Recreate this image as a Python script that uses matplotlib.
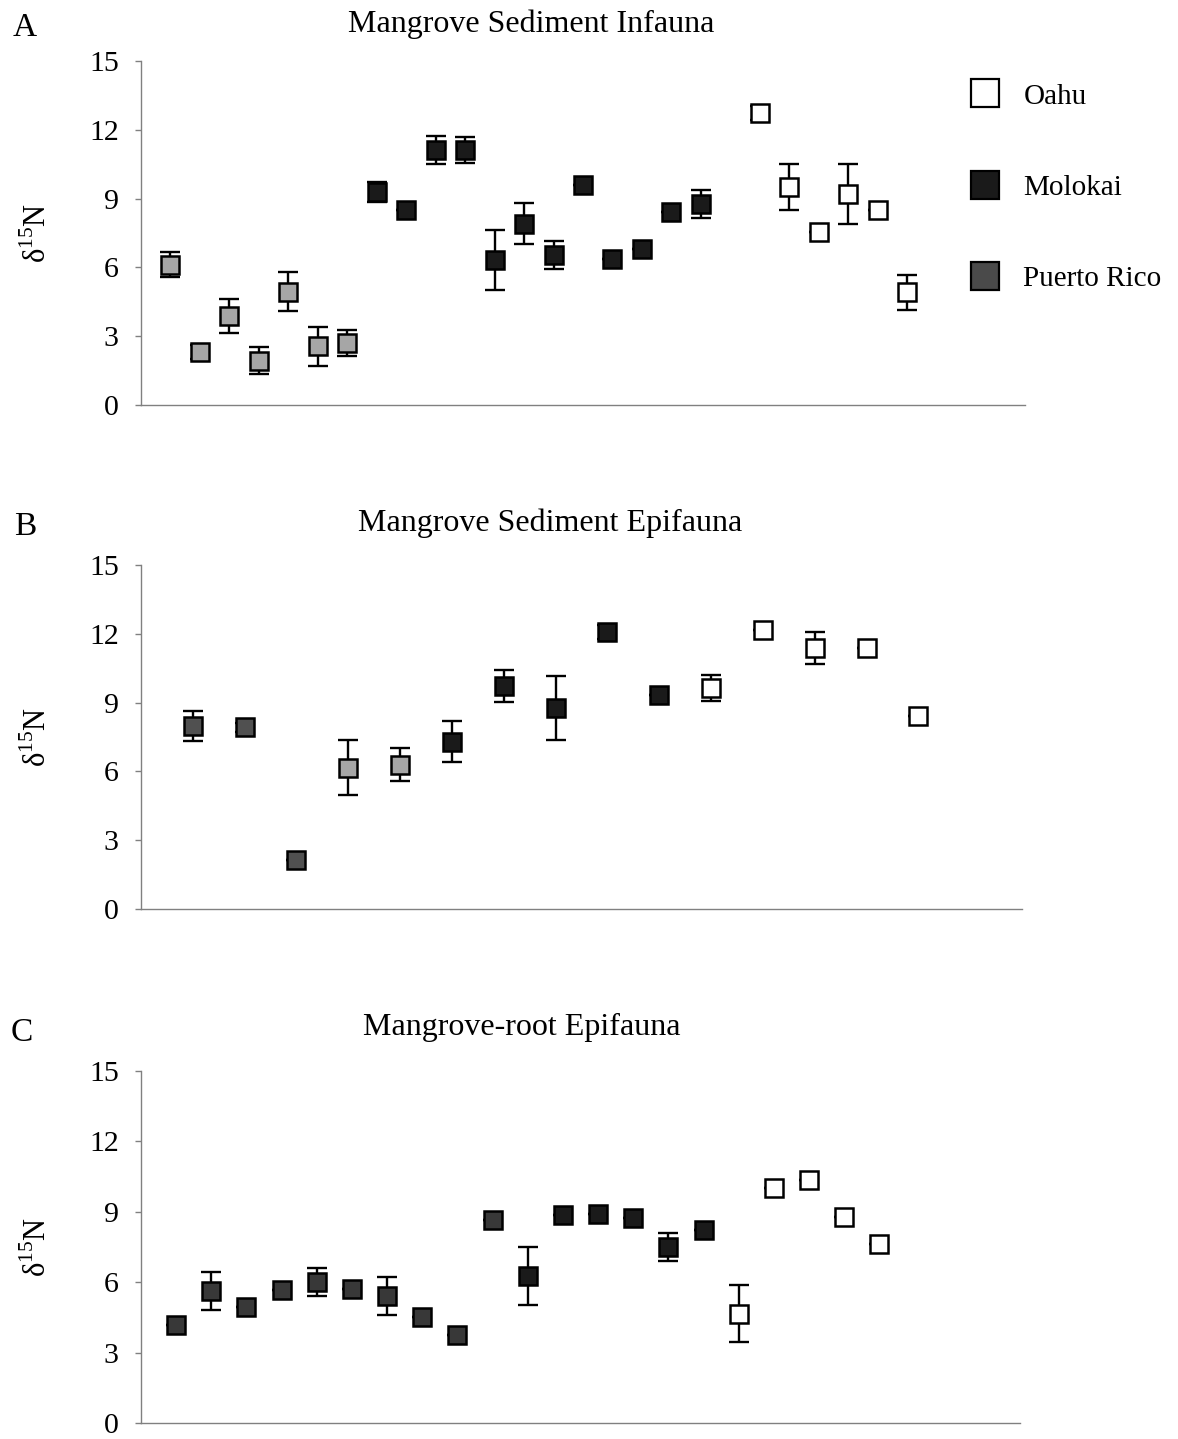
import numpy as np
import matplotlib.pyplot as plt
from matplotlib.lines import Line2D

plt.rcParams['font.family'] = ['Liberation Serif', 'DejaVu Serif']
plt.rcParams['mathtext.fontset'] = 'custom'
plt.rcParams['mathtext.rm'] = 'Liberation Serif'

site_names = ['Oahu', 'Molokai', 'Puerto Rico']

# A - sediment infauna (PR = Puerto Rico, MO = Molokai, OA = Oahu)
infauna_pos = list(range(1, 20)) + list(range(21, 27))
infauna_d15n = [6.12, 2.32, 3.87, 1.94, 4.93, 2.57, 2.70,
                9.29, 8.49, 11.13, 11.12, 6.32, 7.90, 6.54, 9.61, 6.38, 6.81, 8.41, 8.76,
                12.72, 9.51, 7.55, 9.20, 8.49, 4.91]
infauna_sd = [0.55, 0.30, 0.75, 0.60, 0.85, 0.85, 0.55,
              0.45, 0.0, 0.60, 0.55, 1.30, 0.90, 0.60, 0.0, 0.0, 0.0, 0.0, 0.60,
              0.30, 1.00, 0.0, 1.30, 0.0, 0.75]
infauna_site = ['PR'] * 7 + ['MO'] * 12 + ['OA'] * 6

# B - sediment epifauna
sed_epi_pos = list(range(1, 16))
sed_epi_d15n = [7.98, 7.93, 2.14, 6.16, 6.30,
                7.29, 9.72, 8.75, 12.07, 9.35,
                9.64, 12.17, 11.40, 11.38, 8.40]
sed_epi_sd = [0.65, 0.20, 0.0, 1.20, 0.70,
              0.90, 0.70, 1.40, 0.30, 0.0,
              0.55, 0.0, 0.70, 0.0, 0.0]
sed_epi_site = ['PR'] * 5 + ['MO'] * 5 + ['OA'] * 5

# C - mangrove-root epifauna
root_epi_pos = list(range(1, 22))
root_epi_d15n = [4.18, 5.63, 4.94, 5.67, 6.00, 5.73, 5.42, 4.53, 3.77, 8.67,
                 6.27, 8.88, 8.90, 8.73, 7.51, 8.24,
                 4.66, 10.03, 10.36, 8.76, 7.63]
root_epi_sd = [0.0, 0.80, 0.0, 0.0, 0.60, 0.0, 0.80, 0.0, 0.0, 0.0,
               1.25, 0.0, 0.0, 0.0, 0.60, 0.0,
               1.20, 0.0, 0.0, 0.0, 0.0]
root_epi_site = ['PR'] * 10 + ['MO'] * 6 + ['OA'] * 5

# marker faces; Puerto Rico shade differs between sample sets
mo_face = '#1a1a1a'
oa_face = 'white'
pr_face_a = ['#a6a6a6'] * 7
pr_face_b = ['#505050'] * 3 + ['#a6a6a6'] * 2
pr_face_c = ['#383838'] * 10

W, H = 1178, 1439
fig = plt.figure(figsize=(W / 100, H / 100), dpi=100)


def draw_panel(rect, pos, vals, sds, site, pr_faces, xmax, title, title_xy, letter, letter_xy):
    ax = fig.add_axes(rect)
    pos = np.asarray(pos)
    vals = np.asarray(vals)
    sds = np.asarray(sds)
    ax.errorbar(pos, vals, yerr=sds, fmt='none', ecolor='black',
                elinewidth=1.7, capsize=7, capthick=1.7, zorder=2)
    pr_i = 0
    for x, y, s in zip(pos, vals, site):
        if s == 'PR':
            face = pr_faces[pr_i]
            pr_i += 1
        elif s == 'MO':
            face = mo_face
        else:
            face = oa_face
        ax.plot(x, y, marker='s', ms=13.5, mfc=face, mec='black', mew=1.8,
                linestyle='none', zorder=3)
    ax.set_xlim(0, xmax)
    ax.set_ylim(0, 15)
    ax.set_yticks([0, 3, 6, 9, 12, 15])
    ax.set_xticks([])
    for side in ['top', 'right']:
        ax.spines[side].set_visible(False)
    for side in ['left', 'bottom']:
        ax.spines[side].set_color('#808080')
        ax.spines[side].set_linewidth(1.0)
    ax.tick_params(axis='y', length=4, width=1, color='#808080', pad=12,
                   labelsize=21.5)
    ax.set_ylabel('δ$^{15}$N', fontsize=22, rotation=90)
    ax.yaxis.set_label_coords(-0.10, 0.5)
    ax.text(title_xy[0], title_xy[1], title, transform=ax.transAxes,
            ha='center', va='center', fontsize=23)
    fig.text(letter_xy[0], letter_xy[1], letter, ha='center', va='center',
             fontsize=24)
    return ax


ax_a = draw_panel([141 / W, 1 - 405 / H, 884 / W, 344 / H],
                  infauna_pos, infauna_d15n, infauna_sd, infauna_site, pr_face_a,
                  30, 'Mangrove Sediment Infauna', (0.441, 1.108),
                  'A', (25 / W, 1 - 28 / H))
ax_b = draw_panel([141 / W, 1 - 909 / H, 881 / W, 344 / H],
                  sed_epi_pos, sed_epi_d15n, sed_epi_sd, sed_epi_site, pr_face_b,
                  17, 'Mangrove Sediment Epifauna', (0.464, 1.122),
                  'B', (25 / W, 1 - 527 / H))
ax_c = draw_panel([141 / W, 1 - 1423 / H, 879 / W, 352 / H],
                  root_epi_pos, root_epi_d15n, root_epi_sd, root_epi_site, pr_face_c,
                  25, 'Mangrove-root Epifauna', (0.433, 1.123),
                  'C', (22 / W, 1 - 1033 / H))

handles = [Line2D([], [], marker='s', ms=19.5, mfc=f, mec='black', mew=1.6, linestyle='none')
           for f in [oa_face, mo_face, '#4a4a4a']]
fig.legend(handles, site_names, loc='upper left',
           bbox_to_anchor=(930 / W, 1 - 57 / H), frameon=False, fontsize=21,
           labelspacing=2.22, handletextpad=0.3)

fig.savefig('out.png', dpi=100)
